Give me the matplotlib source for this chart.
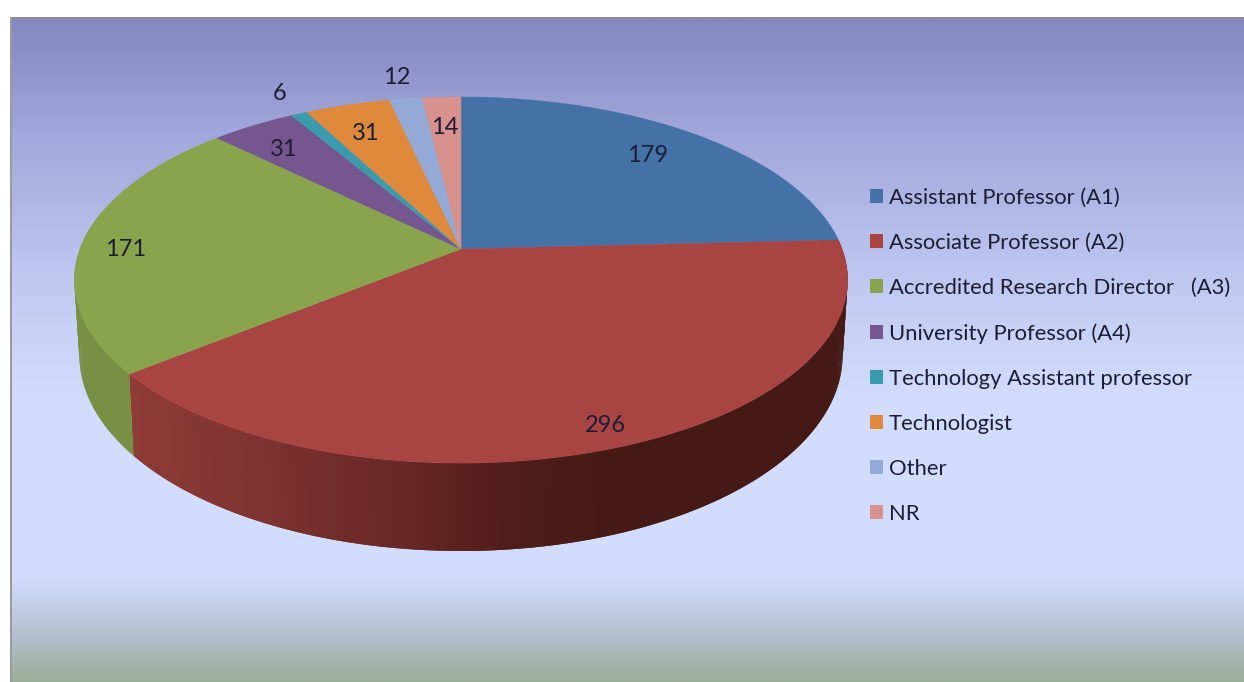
import numpy as np
import matplotlib
matplotlib.use('Agg')
import matplotlib.pyplot as plt
from matplotlib.colors import LinearSegmentedColormap, to_rgb
from matplotlib.patches import Patch

categories = ['Assistant Professor (A1)', 'Associate Professor (A2)',
              'Accredited Research Director   (A3)', 'University Professor (A4)',
              'Technology Assistant professor', 'Technologist', 'Other', 'NR']
values = [179, 296, 171, 31, 6, 31, 12, 14]
colors = ['#4472a6', '#a84441', '#8aa44e', '#75568f', '#3b9bae', '#df893c', '#93aad6', '#d8918c']

# where the value labels sit, in pixels
label_x = [648, 605, 126, 284, 280, 366, 397, 445]
label_y = [156, 426, 249, 149, 94, 134, 78, 128]

# background stops, pixel row and colour
bg_rows = [19, 60, 130, 220, 300, 400, 575, 610, 640, 670, 682]
bg_cols = ['#8587c1', '#8f92ca', '#a1a7da', '#b3bbe8', '#c3cdf3', '#d2ddfd',
           '#d3defe', '#c1cee6', '#b1c0cc', '#a1b3a6', '#9bb09a']

# side shading of the red slice, by pixel column
shade_x = [130, 250, 400, 500, 600, 850]
shade_c = ['#8f3b37', '#7f332f', '#682725', '#511d1a', '#451a15', '#451a15']

W, H = 1244, 682
CX, CY = 461, 249
A_X, A_Y, PERSP = 381, 177.8, 0.1695
DEPTH = 73

plt.rcParams['font.family'] = ['Lato', 'DejaVu Sans']
fig = plt.figure(figsize=(W / 100, H / 100), dpi=100)
ax = fig.add_axes([0, 0, 1, 1])
ax.set_xlim(0, W)
ax.set_ylim(H, 0)
ax.axis('off')


def project(deg, down=0.0, shrink=1.0):
    # clockwise degrees from the top of the disc, to image pixels
    t = np.radians(deg)
    u, v = np.sin(t), np.cos(t)
    d = 1 + PERSP * v
    x = CX + shrink * A_X * u / d
    y = CY - A_Y * v / d + down * DEPTH / d
    return x, y


# background
stops = [(r - bg_rows[0]) / (bg_rows[-1] - bg_rows[0]) for r in bg_rows]
cmap = LinearSegmentedColormap.from_list('bg', list(zip(stops, bg_cols)))
ax.imshow(np.linspace(0, 1, 400)[:, None], cmap=cmap, aspect='auto',
          extent=[11, W, bg_rows[-1], bg_rows[0]], zorder=0)
ax.fill([10, W, W, 10], [17, 17, 19, 19], color='#8a8a9a', lw=0, zorder=1)
ax.fill([10, 12, 12, 10], [17, 17, H, H], color='#9a9aa2', lw=0, zorder=1)

# slice angles
total = sum(values)
edges = np.cumsum([0] + values) / total * 360

# side wall, each strip runs on under the next one so no seams show
red_side = np.array([to_rgb(c) for c in shade_c])
for i in range(len(values)):
    lo, hi = max(edges[i], 78), min(edges[i + 1], 282)
    if hi <= lo:
        continue
    steps = np.arange(lo, hi, 0.5)
    for a in steps:
        b = min(a + 1.0, hi)
        x1, y1 = project(a)
        x2, y2 = project(b)
        x3, y3 = project(b, 1, 0.987)
        x4, y4 = project(a, 1, 0.987)
        xm = (x1 + x2) / 2
        if i == 1:
            col = [np.interp(xm, shade_x, red_side[:, k]) for k in range(3)]
        else:
            col = [c * 0.87 for c in to_rgb(colors[i])]
        ax.fill([x1, x2, x3, x4], [y1, y2, y3, y4], color=col, lw=0, zorder=2)

# top of the disc
for i in range(len(values)):
    ang = np.linspace(edges[i], edges[i + 1], 200)
    xs, ys = project(ang)
    ax.fill(np.r_[CX, xs], np.r_[CY, ys], color=colors[i], lw=0.3, zorder=3)

# value labels
for v, x, y in zip(values, label_x, label_y):
    ax.text(x, y, str(v), ha='center', va='center', fontsize=17, color='#1d1d35', zorder=4)

# legend
handles = [Patch(facecolor=c, edgecolor='none') for c in colors]
ax.legend(handles, categories, loc='upper left', bbox_to_anchor=(863.5, 181),
          bbox_transform=ax.transData, frameon=False, fontsize=15.8,
          labelcolor='#1d1d35', handlelength=0.6, handleheight=0.6,
          handletextpad=0.26, labelspacing=1.145, borderpad=0.3, borderaxespad=0)

fig.savefig('out.png', dpi=100, facecolor='white')
